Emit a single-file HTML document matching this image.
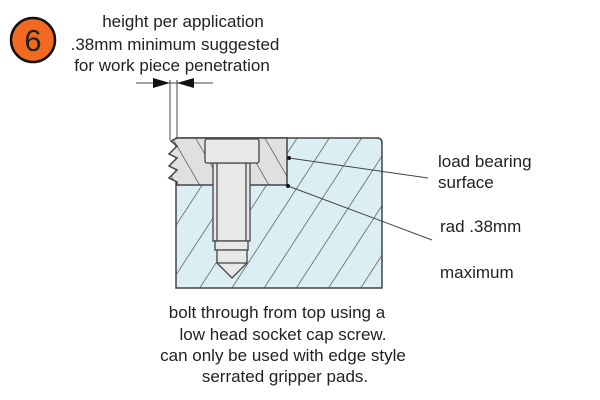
<!DOCTYPE html>
<html><head><style>
body{margin:0;background:#fff;}
svg{display:block;}
text{font-family:"Liberation Sans",Arial,sans-serif;fill:#222;}
</style></head><body>
<svg width="600" height="400" viewBox="0 0 600 400" xmlns="http://www.w3.org/2000/svg">
<defs>
<pattern id="hb" patternUnits="userSpaceOnUse" width="27" height="27" patternTransform="rotate(33)">
<rect width="27" height="27" fill="#dbeef3"/><line x1="0" y1="0" x2="0" y2="27" stroke="#444" stroke-width="1.3"/>
</pattern>
<pattern id="hg" patternUnits="userSpaceOnUse" width="20" height="20" patternTransform="rotate(-30)">
<rect width="20" height="20" fill="#e0e0e0"/><line x1="0" y1="0" x2="0" y2="20" stroke="#444" stroke-width="1.3"/>
</pattern>
</defs>
<circle cx="33" cy="40" r="22" fill="#f26a21" stroke="#111" stroke-width="2.5"/>
<text x="33" y="51" font-size="31" text-anchor="middle">6</text>
<g font-size="17" text-anchor="middle">
<text x="183" y="27">height per application</text>
<text x="175" y="50">.38mm minimum suggested</text>
<text x="172" y="71">for work piece penetration</text>
</g>
<g stroke="#444" stroke-width="1" fill="none">
<line x1="136" y1="83" x2="213" y2="83"/>
<line x1="170" y1="80" x2="170" y2="140"/>
<line x1="177" y1="80" x2="177" y2="140"/>
</g>
<polygon points="153,78 170,83 153,88" fill="#111"/>
<polygon points="194,78 177,83 194,88" fill="#111"/>
<path d="M176,138 L377,138 Q382,138 382,143 L382,288 L176,288 Z" fill="url(#hb)" stroke="#444" stroke-width="1.5"/>
<path d="M177,138 L287,138 L287,185 L177,185 L177,182 L169,178 L177,170 L169,166 L177,158 L169,154 L177,146 L171,141 Z" fill="url(#hg)" stroke="#444" stroke-width="1.5"/>
<g fill="#e8e8e8" stroke="#444" stroke-width="1.3">
<rect x="213" y="163" width="37" height="78"/>
<line x1="217" y1="163" x2="217" y2="241"/>
<line x1="246" y1="163" x2="246" y2="241"/>
<rect x="215" y="241" width="33" height="9"/>
<path d="M217,250 L247,250 L247,263 L232,278 L217,263 Z"/>
<line x1="217" y1="263" x2="247" y2="263"/>
<rect x="205" y="139" width="54" height="24" rx="2"/>
</g>
<g stroke="#444" stroke-width="1">
<line x1="289" y1="158" x2="428" y2="178"/>
<line x1="288" y1="186" x2="432" y2="240"/>
</g>
<circle cx="289" cy="158" r="2" fill="#111"/>
<circle cx="288" cy="186" r="2" fill="#111"/>
<g font-size="17">
<text x="438" y="167">load bearing</text>
<text x="438" y="188">surface</text>
<text x="440" y="232">rad .38mm</text>
<text x="440" y="278">maximum</text>
</g>
<g font-size="17" text-anchor="middle">
<text x="277" y="318">bolt through from top using a</text>
<text x="283" y="340">low head socket cap screw.</text>
<text x="283" y="361">can only be used with edge style</text>
<text x="285" y="382">serrated gripper pads.</text>
</g>
</svg>
</body></html>
